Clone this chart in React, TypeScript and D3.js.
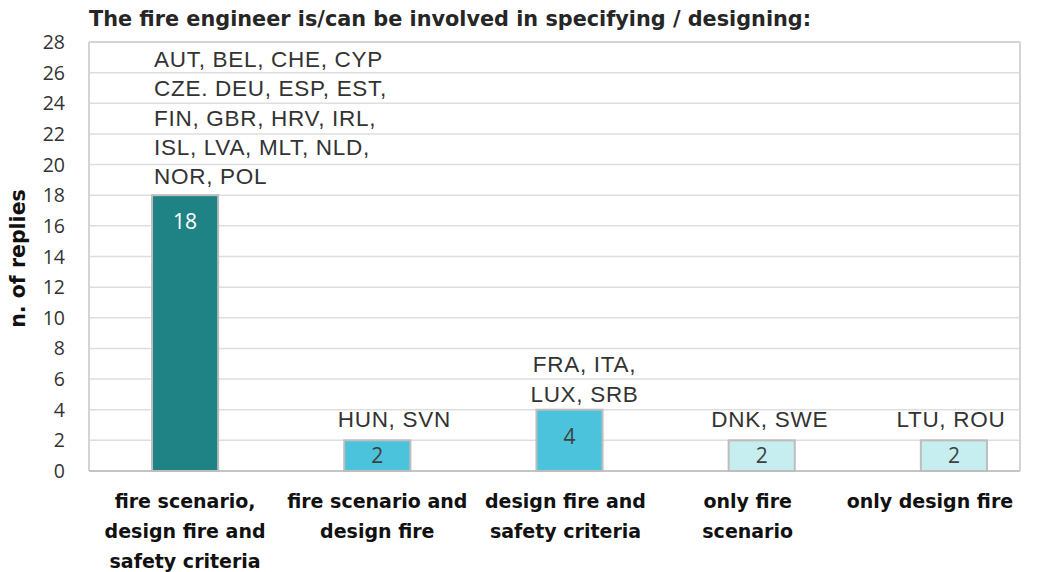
import React from "react";
import * as d3 from "d3";

const title = "The fire engineer is/can be involved in specifying / designing:";
const yTitle = "n. of replies";

const categories = [
  "fire scenario,\ndesign fire and\nsafety criteria",
  "fire scenario and\ndesign fire",
  "design fire and\nsafety criteria",
  "only fire\nscenario",
  "only design fire",
];
const values = [18, 2, 4, 2, 2];
const countries = [
  ["AUT, BEL, CHE, CYP", "CZE. DEU, ESP, EST,", "FIN, GBR, HRV, IRL,", "ISL, LVA, MLT, NLD,", "NOR, POL"],
  ["HUN,  SVN"],
  ["FRA, ITA,", "LUX, SRB"],
  ["DNK, SWE"],
  ["LTU, ROU"],
];
const barColors = ["#1F8385", "#4BC3DC", "#4BC3DC", "#C6EEF0", "#C6EEF0"];
const valueColors = ["#ffffff", "#404040", "#404040", "#404040", "#404040"];
const yTicks = d3.range(0, 29, 2);

const W = 1053;
const H = 572;
const left = 89;
const right = 1020;
const top = 42;
const bottom = 471;
// hand placed label offsets, as in the source chart
const labelDx = [0, 17, 15, 8, -3];
const labelGap = [11, 13, 8, 13, 13];
const catDx = [0, 0, -4, -14, -24];

export default function App() {
  const x = d3.scaleBand<number>().domain(d3.range(categories.length)).range([left, 1050]).paddingInner(0.656).paddingOuter(0.328);
  const y = d3.scaleLinear().domain([0, 28]).range([bottom, top]);
  const bw = x.bandwidth();
  const lab = "'Liberation Sans', Arial, sans-serif";
  const tick = "'Open Sans', 'DejaVu Sans', sans-serif";
  const bold = "'DejaVu Sans', Verdana, sans-serif";

  return (
    <svg width={W} height={H} style={{ position: "absolute", left: 0, top: 0 }}>
      <rect width={W} height={H} fill="#fff" />
      <text x={left} y={26} fontFamily={bold} fontWeight="bold" fontSize={20.8} fill="#262626">{title}</text>
      {yTicks.map((t) => (
        <g key={t}>
          {t > 0 && <line x1={left} x2={right} y1={y(t)} y2={y(t)} stroke="#DEDEDE" strokeWidth={1.5} />}
          <text x={65} y={y(t) + 7} textAnchor="end" fontFamily={tick} fontSize={19.5} fill="#333">{t}</text>
        </g>
      ))}
      <line x1={left} x2={left} y1={top} y2={bottom} stroke="#D4D4D4" strokeWidth={2} />
      <line x1={right} x2={right} y1={top} y2={bottom} stroke="#D4D4D4" strokeWidth={2} />
      <line x1={left} x2={right} y1={top} y2={top} stroke="#D4D4D4" strokeWidth={2} />
      <line x1={left} x2={right} y1={bottom} y2={bottom} stroke="#C4C4C4" strokeWidth={2} />
      <text transform={`translate(25,${(top + bottom) / 2 + 2}) rotate(-90)`} textAnchor="middle" fontFamily={bold} fontWeight="bold" fontSize={20.5} fill="#111">{yTitle}</text>
      {values.map((v, i) => {
        const bx = x(i)!;
        const cx = bx + bw / 2;
        const yt = y(v);
        const lines = countries[i];
        const lastBase = yt - labelGap[i];
        const vBase = Math.min(yt + 34, (yt + bottom) / 2 + 7.5);
        return (
          <g key={i}>
            <rect x={bx} y={yt} width={bw} height={bottom - yt} fill={barColors[i]} stroke="#BDBDBD" strokeWidth={2} />
            <text x={cx} y={vBase} textAnchor="middle" fontFamily={tick} fontSize={21} fill={valueColors[i]}>{v}</text>
            {lines.map((l, j) => (
              <text key={j} x={i === 0 ? bx + 2 : cx + labelDx[i]} y={lastBase - (lines.length - 1 - j) * 29.3}
                textAnchor={i === 0 ? "start" : "middle"} fontFamily={lab} fontSize={22.5} letterSpacing={0.7} fill="#333">{l}</text>
            ))}
            {categories[i].split("\n").map((l, j) => (
              <text key={"c" + j} x={cx + catDx[i]} y={508 + j * 30} textAnchor="middle" fontFamily={bold} fontWeight="bold" fontSize={19} fill="#111">{l}</text>
            ))}
          </g>
        );
      })}
    </svg>
  );
}
